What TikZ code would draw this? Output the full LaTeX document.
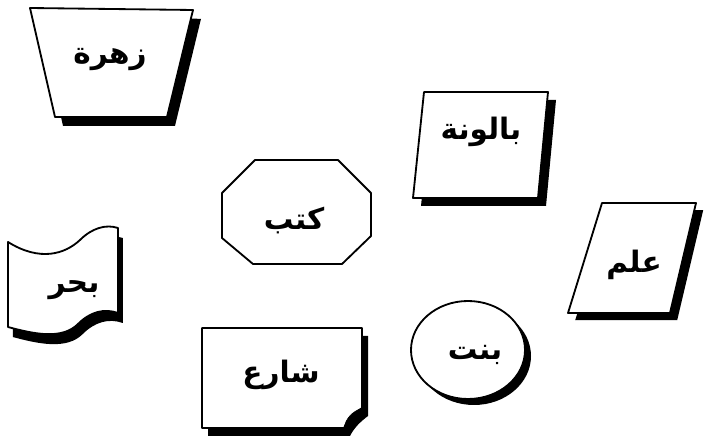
\documentclass[tikz,border=0pt]{standalone}
\usepackage{fontspec}
\newfontfamily\arabicfont[Script=Arabic]{DejaVu Sans}
\TeXXeTstate=1
\usetikzlibrary{shadows}

\begin{document}
\begin{tikzpicture}[
  x=0.025cm, y=-0.025cm,
  forma/.style={fill=white, draw=black, line width=1.3pt, line join=round},
  sombra/.style 2 args={drop shadow={shadow xshift=#1, shadow yshift=#2,
    fill=black, opacity=1}},
  palabra/.style={font=\arabicfont\bfseries\fontsize{21}{26}\selectfont}
]

  \useasboundingbox (0,0) rectangle (705,438);

  % Trapecio
  \draw[forma, sombra={0.2cm}{-0.22cm}]
    (30,8) -- (193,10) -- (167,117) -- (55,117) -- cycle;
  \node[palabra] (zahra) at (110,60) {\beginR زهرة\endR};

  % Paralelogramo de arriba
  \draw[forma, sombra={0.2cm}{-0.2cm}]
    (424,92) -- (548,92) -- (538,198) -- (413,198) -- cycle;
  \node[palabra] (balluna) at (481,132) {\beginR بالونة\endR};

  % Octagono
  \draw[forma]
    (255,160) -- (338,160) -- (371,193) -- (371,236)
    -- (342,264) -- (253,264) -- (222,238) -- (222,193) -- cycle;
  \node[palabra] (kutub) at (294,220) {\beginR كتب\endR};

  % Paralelogramo de la derecha
  \draw[forma, sombra={0.18cm}{-0.18cm}]
    (602,203) -- (696,203) -- (670,313) -- (568,313) -- cycle;
  \node[palabra] (ilm) at (634,265) {\beginR علم\endR};

  % Bandera
  \draw[forma, sombra={0.12cm}{-0.25cm}]
    (8,242) .. controls (40,262) and (65,254) .. (80,240)
    .. controls (92,228) and (106,224) .. (118,228)
    -- (118,313)
    .. controls (104,308) and (90,312) .. (78,324)
    .. controls (62,340) and (34,334) .. (8,327) -- cycle;
  \node[palabra] (bahr) at (74,290) {\beginR بحر\endR};

  % Rectangulo con esquina doblada
  \draw[forma, sombra={0.15cm}{-0.2cm}]
    (202,328) -- (362,328) -- (362,408)
    .. controls (354,414) and (348,420) .. (344,428)
    -- (202,428) -- cycle;
  \filldraw[black]
    (344,428) .. controls (346,418) and (352,412) .. (362,408)
    -- (358,416) .. controls (352,418) and (349,422) .. (344,428);
  \node[palabra] (shari) at (281,375) {\beginR شارع\endR};

  % Circulo
  \draw[forma, sombra={0.15cm}{-0.15cm}]
    (468,350) ellipse [x radius=57, y radius=49];
  \node[palabra] (bint) at (475,355) {\beginR بنت\endR};

\end{tikzpicture}
\end{document}
